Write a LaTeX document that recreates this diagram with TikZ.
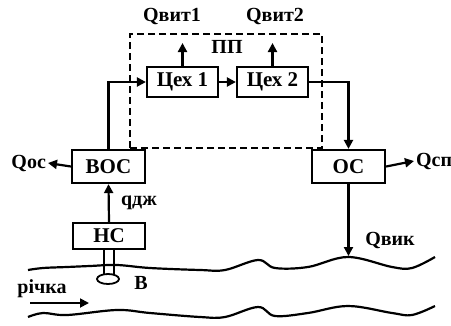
\documentclass[tikz,border=0pt]{standalone}
\usepackage{fontspec}
\setmainfont{Liberation Serif}
\usetikzlibrary{arrows.meta, shapes.geometric}

\begin{document}
\begin{tikzpicture}[x=1pt, y=-1pt, line width=2.2pt,
  >={Triangle[length=9pt, width=9pt]},
  every node/.style={font=\bfseries\fontsize{20}{20}\selectfont, inner sep=1pt},
  box/.style={draw, inner sep=0pt, font=\bfseries\fontsize{21}{21}\selectfont}]
  \useasboundingbox (0,0) rectangle (451,325);
  % plant boundary
  \node [draw, line width=2pt, dash pattern=on 7pt off 4pt, minimum width=192pt, minimum height=114pt] (pp) at (226,91) {};
  \node (ppl) at (227,47) {ПП};
  \node [box, minimum width=71pt, minimum height=30pt] (c1) at (182.5,82) {Цех 1};
  \node [box, minimum width=71pt, minimum height=30pt] (c2) at (272.5,82) {Цех 2};
  \node [box, minimum width=73pt, minimum height=33pt] (voc) at (108.5,166.5) {ВОС};
  \node [box, minimum width=72pt, minimum height=26pt] (ns) at (109,236) {НС};
  \node [box, minimum width=73pt, minimum height=33pt] (os) at (348.5,166.5) {ОС};
  \node [draw, ellipse, line width=1.8pt, minimum width=22pt, minimum height=10pt, inner sep=0pt] (inl) at (108,279) {};
  % labels
  \node (qv1) at (172,16) {Qвит1};
  \node (qv2) at (275,16) {Qвит2};
  \node [anchor=east] (qos) at (48,163) {Qос};
  \node [anchor=west] (qsp) at (414,161) {Qсп};
  \node (qdzh) at (139,203) {qдж};
  \node (qvik) at (390,240) {Qвик};
  \node (vv) at (141,283) {В};
  \node (riv) at (42,289) {річка};
  \coordinate (t1) at (182.5,43);
  \coordinate (t2) at (272.5,43);
  \coordinate (dis) at (348.5,256);
  \coordinate (fa) at (30,303);
  \coordinate (fb) at (89,303);
  % flows
  \draw [->] (c1) -- (c2);
  \draw [->] (c1.north) -- (t1);
  \draw [->] (c2.north) -- (t2);
  \draw [->] (voc.north) |- (c1.west);
  \draw [->] (c2.east) -| (os.north);
  \draw [->] (voc.west) -- (qos.east);
  \draw [->] (os.east) -- (qsp.west);
  \draw [->] (ns.north) -- (voc.south);
  \draw [->] (os.south) -- (dis);
  \draw [->, line width=1.8pt] (fa) -- (fb);
  \draw [line width=1.8pt] ([xshift=-5pt]ns.south) -- ++(0,25);
  \draw [line width=1.8pt] ([xshift=5pt]ns.south) -- ++(0,25);
  % river banks
  \draw plot [smooth, tension=0.6] coordinates {(28,270) (43,268) (67,267) (90,266) (117,265) (150,268) (200,270) (225,270) (258,260) (275,268) (308,267) (348,257) (392,267) (412,268) (435,257)};
  \draw plot [smooth, tension=0.6] coordinates {(28,317) (43,313) (67,315) (117,310) (150,313) (200,317) (225,317) (258,307) (275,316) (308,313) (348,306) (392,313) (412,315) (435,306)};
\end{tikzpicture}
\end{document}
